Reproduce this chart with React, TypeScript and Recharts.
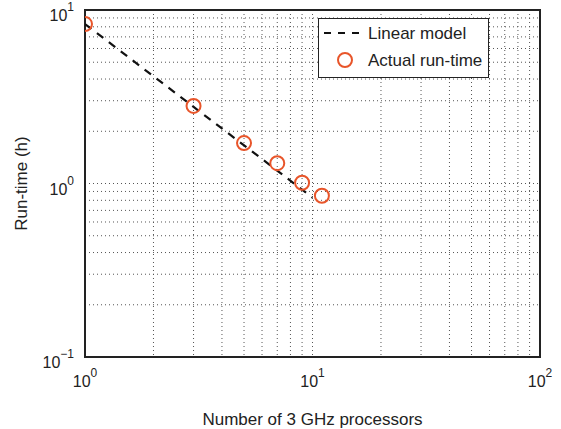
import React from "react";
import {
  ComposedChart,
  Line,
  Scatter,
  XAxis,
  YAxis,
  CartesianGrid,
  ReferenceArea,
} from "recharts";

const procs = [1, 3, 5, 7, 9, 11];
const runHours = [8.3, 2.8, 1.71, 1.31, 1.01, 0.85];

const modelProcs = [1, 10];
const modelHours = [8.3, 0.83];

const xTicks = [1, 2, 3, 4, 5, 6, 7, 8, 9, 10, 20, 30, 40, 50, 60, 70, 80, 90, 100];
const yTicks = [0.1, 0.2, 0.3, 0.4, 0.5, 0.6, 0.7, 0.8, 0.9, 1, 2, 3, 4, 5, 6, 7, 8, 9, 10];

const FONT = "'Liberation Sans', Arial, Helvetica, sans-serif";
const ORANGE = "#e8552a";

const actual = procs.map((n, i) => ({ n, h: runHours[i] }));
const model = modelProcs.map((n, i) => ({ n, h: modelHours[i] }));

// only decades get a label, written as 10^k
function decade(v: number) {
  const e = Math.round(Math.log10(v));
  if (Math.abs(Math.log10(v) - e) > 1e-6) return null;
  return e < 0 ? "\u2212" + Math.abs(e) : String(e);
}

const XTick = ({ x, y, payload }: any) => {
  const e = decade(payload.value);
  if (e === null) return null;
  return (
    <text x={x} y={y + 30} textAnchor="middle" fontFamily={FONT} fontSize={16} fill="#222">
      10
      <tspan dy={-10} fontSize={12}>{e}</tspan>
    </text>
  );
};

const YTick = ({ x, y, payload }: any) => {
  const e = decade(payload.value);
  if (e === null) return null;
  return (
    <text x={x - 11} y={y + 11} textAnchor="end" fontFamily={FONT} fontSize={16} fill="#222">
      10
      <tspan dy={-10} fontSize={12}>{e}</tspan>
    </text>
  );
};

const YTitle = ({ viewBox }: any) => {
  const cx = viewBox.x + 21;
  const cy = viewBox.y + viewBox.height / 2;
  return (
    <text
      x={cx}
      y={cy}
      transform={`rotate(-90, ${cx}, ${cy})`}
      textAnchor="middle"
      dominantBaseline="central"
      fontFamily={FONT}
      fontSize={17}
      fill="#222"
    >
      Run-time (h)
    </text>
  );
};

const Ring = ({ cx, cy }: any) => (
  <circle cx={cx} cy={cy} r={7} fill="none" stroke={ORANGE} strokeWidth={2} />
);

const LegendBox = () => (
  <svg width={171} height={60} style={{ display: "block" }}>
    <rect x={0.5} y={0.5} width={170} height={59} fill="#fff" stroke="#222" strokeWidth={1} />
    <line x1={6} y1={15} x2={41} y2={15} stroke="#111" strokeWidth={2} strokeDasharray="7 7" />
    <text x={50} y={21} fontFamily={FONT} fontSize={17} fill="#222">Linear model</text>
    <circle cx={27} cy={42} r={7} fill="none" stroke={ORANGE} strokeWidth={2} />
    <text x={50} y={48} fontFamily={FONT} fontSize={17} fill="#222">Actual run-time</text>
  </svg>
);

export default function App() {
  return (
    <div style={{ position: "absolute", left: 0, top: 0, width: 561, height: 429, background: "#fff" }}>
      <ComposedChart width={561} height={429} margin={{ top: 10, right: 21, left: 0, bottom: 0 }}>
        <CartesianGrid stroke="#555" strokeDasharray="1 3" />
        <XAxis
          dataKey="n"
          type="number"
          scale="log"
          domain={[1, 100]}
          ticks={xTicks}
          interval={0}
          allowDataOverflow
          height={72}
          tickSize={0}
          tickMargin={0}
          tickLine={false}
          axisLine={false}
          tick={<XTick />}
          label={{
            value: "Number of 3 GHz processors",
            position: "insideBottom",
            offset: 4,
            style: { fontFamily: FONT, fontSize: 17, fill: "#222" },
          }}
        />
        <YAxis
          type="number"
          scale="log"
          domain={[0.1, 10]}
          ticks={yTicks}
          interval={0}
          allowDataOverflow
          width={85}
          tickSize={0}
          tickMargin={0}
          tickLine={false}
          axisLine={false}
          tick={<YTick />}
          label={<YTitle />}
        />
        <ReferenceArea x1={1} x2={100} y1={0.1} y2={10} fill="none" stroke="#222" strokeWidth={2} />
        <Line
          data={model}
          dataKey="h"
          stroke="#111"
          strokeWidth={2.2}
          strokeDasharray="8 7"
          dot={false}
          activeDot={false}
          isAnimationActive={false}
        />
        <Scatter data={actual} dataKey="h" shape={<Ring />} isAnimationActive={false} />
      </ComposedChart>
      <div style={{ position: "absolute", left: 318, top: 18 }}>
        <LegendBox />
      </div>
    </div>
  );
}
